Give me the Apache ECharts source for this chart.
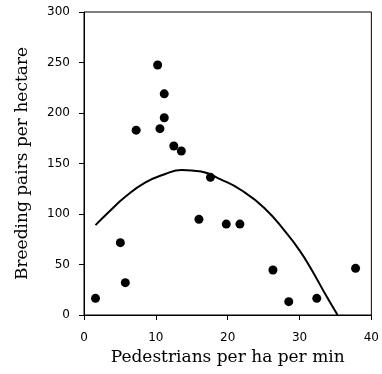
<!DOCTYPE html>
<html><head><meta charset="utf-8">
<script src="https://cdn.jsdelivr.net/npm/echarts@6/dist/echarts.min.js"></script>
<style>html,body{margin:0;padding:0;background:#fff}#c{width:382px;height:374px}</style>
</head><body><div id="c"></div>
<script>
var pedestrians = [1.6, 5.06, 5.75, 7.26, 10.25, 10.57, 11.17, 11.17, 12.5, 13.55, 16.0, 17.6, 19.8, 21.7, 26.3, 28.5, 32.4, 37.8];
var breedingPairs = [16.5, 71.6, 32, 183, 247.5, 184.5, 219, 195.3, 167.3, 162.4, 94.7, 136.3, 90, 90, 44.5, 13.2, 16.5, 46.2];
var fitX = [1.6, 3.45, 5.75, 8.5, 11.3, 13.6, 16.3, 19.1, 21.8, 25.1, 28.3, 30.0, 31.5, 33.8, 35.3];
var fitY = [89, 102, 117, 131, 139.6, 143.6, 142, 134, 124, 106, 80, 64, 47, 18, 0];
var xTicks = [0, 10, 20, 30, 40];
var yTicks = [0, 50, 100, 150, 200, 250, 300];

var pts = pedestrians.map(function(x, i){ return [x, breedingPairs[i]]; });
var fit = fitX.map(function(x, i){ return [x, fitY[i]]; });

var chart = echarts.init(document.getElementById('c'), null, {renderer:'canvas'});
var axisFont = {fontFamily:'DejaVu Sans', fontSize:12, color:'#000'};
chart.setOption({
  animation:false,
  backgroundColor:'#fff',
  grid:{left:84, top:12, right:7, bottom:59, show:true, borderColor:'#000', borderWidth:1, containLabel:false},
  xAxis:{
    type:'value', min:xTicks[0], max:xTicks[xTicks.length-1], interval:10,
    name:'Pedestrians per ha per min', nameLocation:'middle', nameGap:34,
    nameTextStyle:{fontFamily:'DejaVu Serif', fontSize:17, color:'#000'},
    axisLine:{show:true, lineStyle:{color:'#000', width:1}},
    axisTick:{show:true, inside:false, length:5, lineStyle:{color:'#000'}},
    axisLabel:Object.assign({margin:17}, axisFont),
    splitLine:{show:false}
  },
  yAxis:{
    type:'value', min:yTicks[0], max:yTicks[yTicks.length-1], interval:50,
    name:'Breeding pairs per hectare', nameLocation:'middle', nameGap:53,
    nameTextStyle:{fontFamily:'DejaVu Serif', fontSize:17, color:'#000'},
    axisLine:{show:true, lineStyle:{color:'#000', width:1}},
    axisTick:{show:true, inside:false, length:5, lineStyle:{color:'#000'}},
    axisLabel:Object.assign({margin:14}, axisFont),
    splitLine:{show:false}
  },
  series:[
    {type:'line', data:fit, smooth:0.5, showSymbol:false, symbol:'none',
     lineStyle:{color:'#000', width:2}, z:2},
    {type:'scatter', data:pts, symbol:'circle', symbolSize:9,
     itemStyle:{color:'#000', opacity:1}, z:3}
  ]
});
</script></body></html>
